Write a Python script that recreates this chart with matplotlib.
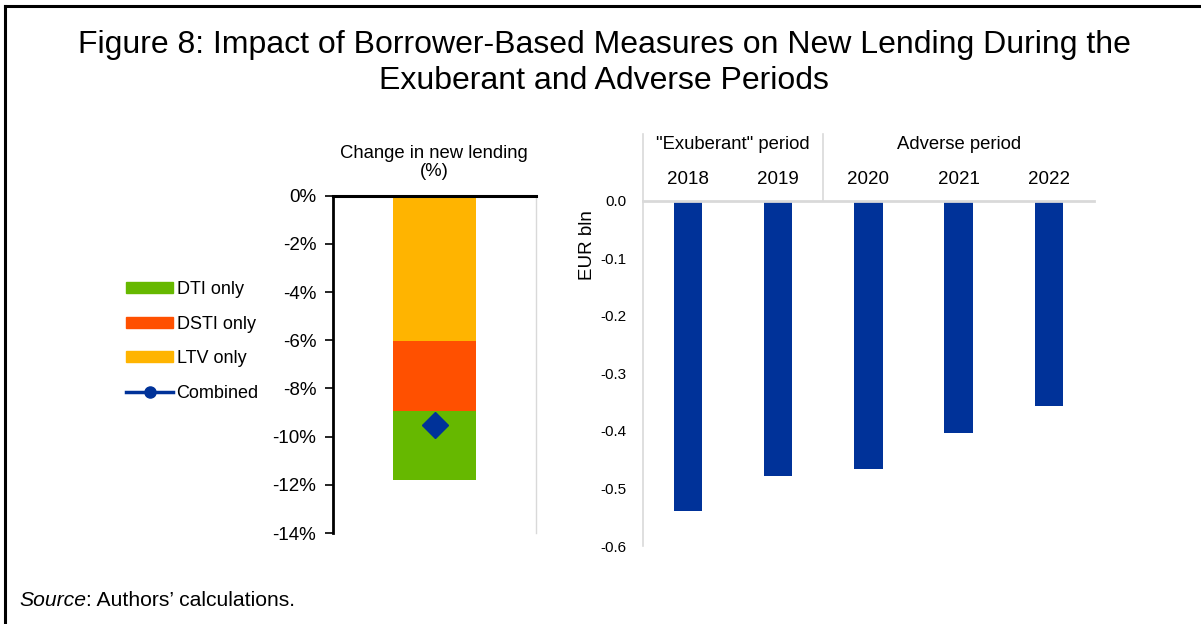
import numpy as np
import matplotlib
matplotlib.use("Agg")
import matplotlib.pyplot as plt
import matplotlib.transforms as mtransforms
from matplotlib.patches import Patch
from matplotlib.lines import Line2D

plt.rcParams['font.family'] = ['Liberation Sans', 'DejaVu Sans']

# left panel: decomposition of the change in new lending (%)
measures = ['DTI only', 'DSTI only', 'LTV only']
measure_vals = [-2.87, -2.90, -6.05]
combined = -9.5
left_ticks = [0, -2, -4, -6, -8, -10, -12, -14]

# right panel: yearly impact, EUR bln
years = ['2018', '2019', '2020', '2021', '2022']
impact = [-0.539, -0.478, -0.466, -0.403, -0.356]
periods = ['"Exuberant" period', 'Adverse period']
right_ticks = [0.0, -0.1, -0.2, -0.3, -0.4, -0.5, -0.6]

col = {'DTI only': '#66b800', 'DSTI only': '#ff5000', 'LTV only': '#ffb400'}
blue = '#003299'
grey = '#d9d9d9'

W, H = 1201, 624
fig = plt.figure(figsize=(W / 100, H / 100), dpi=100)

def fx(px):
    return px / W

def fy(py):
    return 1 - py / H

# outer frame (left and top edges)
fig.add_artist(Line2D([fx(5), fx(5)], [0, fy(6)], color='black', lw=2.2))
fig.add_artist(Line2D([fx(5), 1], [fy(6), fy(6)], color='black', lw=2.2))

fig.text(fx(604), fy(63), 'Figure 8: Impact of Borrower-Based Measures on New Lending During the\n'
         'Exuberant and Adverse Periods', ha='center', va='center', fontsize=23,
         linespacing=1.24)

# ---- left panel
ax1 = fig.add_axes([fx(333), fy(533), fx(536) - fx(333), fy(195.7) - fy(533)])
bottom = 0.0
for name in ['LTV only', 'DSTI only', 'DTI only']:
    v = measure_vals[measures.index(name)]
    ax1.bar(0, v, width=0.405, bottom=bottom, color=col[name], zorder=2)
    bottom += v
ax1.plot([0], [combined], marker='D', color=blue, markersize=13, ls='none', zorder=3)
ax1.set_xlim(-0.5, 0.5)
ax1.set_ylim(-14, 0)
ax1.set_xticks([])
ax1.set_yticks(left_ticks)
ax1.set_yticklabels(['%d%%' % t for t in left_ticks], fontsize=13.5)
ax1.tick_params(axis='y', length=6, width=1.2, pad=6, direction='out')
ax1.spines['bottom'].set_visible(False)
ax1.spines['left'].set_linewidth(2)
ax1.spines['top'].set_linewidth(2.2)
ax1.spines['right'].set_color(grey)
ax1.spines['right'].set_linewidth(1)
fig.text(fx(434), fy(162.5), 'Change in new lending\n(%)', ha='center', va='center',
         fontsize=13.3, linespacing=1.05)

handles = [Patch(color=col[m]) for m in measures]
handles.append(Line2D([], [], color=blue, lw=2.5, marker='o', markersize=8))
leg = fig.legend(handles, measures + ['Combined'], loc='upper left',
                 bbox_to_anchor=(fx(117), fy(272)), frameon=False, fontsize=13,
                 handlelength=2.6, handleheight=0.58, handletextpad=0.2,
                 labelspacing=0.97, borderpad=0)

# ---- right panel
ax2 = fig.add_axes([fx(642.7), fy(546), fx(1094) - fx(642.7), fy(200.7) - fy(546)])
x = np.arange(len(years))
ax2.bar(x, impact, width=0.315, color=blue, zorder=2)
ax2.set_xlim(-0.5, len(years) - 0.5)
ax2.set_ylim(-0.6, 0)
ax2.set_xticks([])
ax2.set_yticks(right_ticks)
ax2.set_yticklabels(['%.1f' % t for t in right_ticks], fontsize=11)
ax2.tick_params(axis='y', length=0, pad=12)
for s in ['bottom', 'right']:
    ax2.spines[s].set_visible(False)
ax2.spines['top'].set_color(grey)
ax2.spines['top'].set_linewidth(2)
ax2.spines['left'].set_color(grey)
ax2.spines['left'].set_linewidth(1.2)

trans = mtransforms.blended_transform_factory(ax2.transData, ax2.transAxes)
top = 1 + (200.7 - 134) / 345.3
for xv in [-0.5, 1.5]:
    ax2.plot([xv, xv], [1, top], color=grey, lw=1.2, transform=trans, clip_on=False)
for xi, yr in zip(x, years):
    ax2.text(xi, 1 + (200.7 - 179) / 345.3, yr, transform=trans, ha='center',
             va='center', fontsize=13.5)
ax2.text(0.5, 1 + (200.7 - 145) / 345.3, periods[0], transform=trans, ha='center',
         va='center', fontsize=13.3)
ax2.text(3.0, 1 + (200.7 - 145) / 345.3, periods[1], transform=trans, ha='center',
         va='center', fontsize=13.3)
fig.text(fx(587), fy(245), 'EUR bln', rotation=90, ha='center', va='center', fontsize=13.5)

# source note: italic word followed by plain text
src = fig.text(fx(19), fy(601), 'Source', ha='left', va='center', fontsize=15.2,
               style='italic')
fig.canvas.draw()
bb = src.get_window_extent()
fig.text(bb.x1 / W, fy(601), ': Authors\u2019 calculations.', ha='left', va='center',
         fontsize=15.2)

fig.savefig('out.png', dpi=100)
